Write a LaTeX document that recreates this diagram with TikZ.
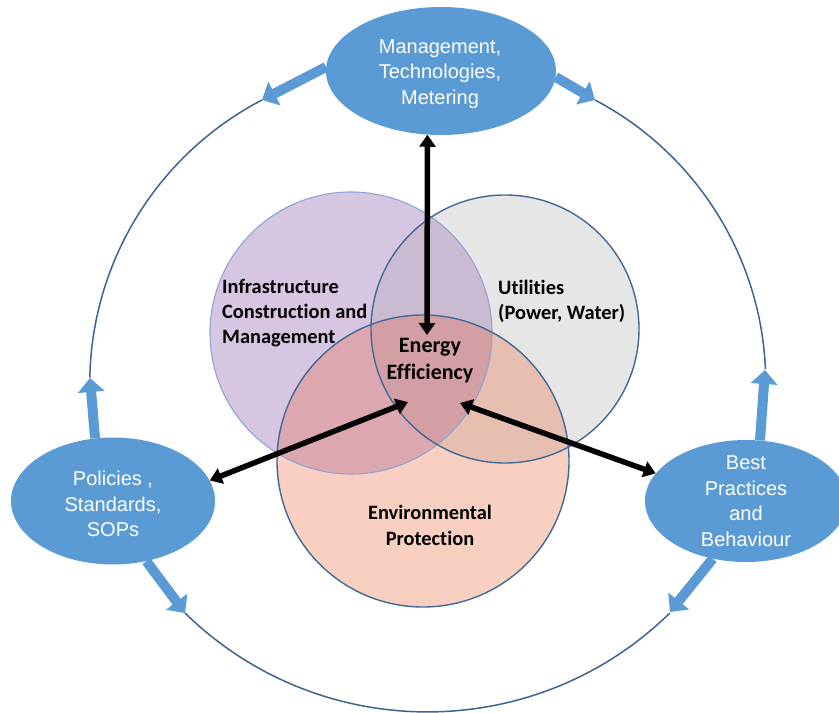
\documentclass[tikz,border=0pt]{standalone}
\usepackage{fontspec}
\setmainfont{Liberation Sans}
\newfontfamily\vennfont[Ligatures=NoCommon]{Carlito}
\usetikzlibrary{arrows.meta,shapes.geometric}

\definecolor{ovalblue}{RGB}{91,155,213}
\definecolor{ringline}{RGB}{62,98,145}
\definecolor{edgeblue}{RGB}{65,105,150}
\definecolor{edgelilac}{RGB}{143,164,210}
\definecolor{infraFill}{RGB}{215,198,226}
\definecolor{utilFill}{RGB}{230,230,230}
\definecolor{envFill}{RGB}{248,207,192}
\definecolor{infraUtil}{RGB}{202,187,211}
\definecolor{infraEnv}{RGB}{221,167,176}
\definecolor{utilEnv}{RGB}{231,191,177}
\definecolor{allThree}{RGB}{211,159,164}

\begin{document}
\begin{tikzpicture}[x=1pt,y=1pt,
  oval/.style={ellipse, fill=ovalblue, draw=none, inner sep=0pt},
  ovaltext/.style={text=white, align=center, inner sep=0pt,
    font=\fontsize{20}{25.5}\selectfont},
  flow/.style={draw=ovalblue, line width=10pt,
    -{Triangle[width=26pt,length=14pt]}},
  link/.style={draw=black, line width=5.5pt,
    {Triangle[width=16pt,length=12pt]}-{Triangle[width=16pt,length=12pt]}},
  ring/.style={draw=ringline, line width=1.5pt},
  vennlabel/.style={inner sep=0pt, text=black,
    font=\vennfont\bfseries\fontsize{20.4}{25}\selectfont}
]
\useasboundingbox (0,0) rectangle (839,713);

% centres of the three overlapping circles
\coordinate (cI) at (351,380);
\coordinate (cU) at (505,384);
\coordinate (cE) at (423,252);
\def\rI{141}
\def\rU{134}
\def\rE{146}

% ends of the outer cycle arrows
\coordinate (tTL) at (262,613);
\coordinate (tTR) at (595,613);
\coordinate (tLU) at (90,335);
\coordinate (tLD) at (185,100);
\coordinate (tRU) at (765,343);
\coordinate (tRD) at (670,101);

% points where the black arrows meet the centre
\coordinate (eeN) at (427,378);
\coordinate (eeL) at (408,311);
\coordinate (eeR) at (460,310);

% outer cycle
\draw[ring] (tTL) arc[start angle=117.5, end angle=178.9, radius=320];
\draw[ring] (tTR) arc[start angle=62.2, end angle=2.5, radius=320];
\draw[ring] (tLD) arc[start angle=225.6, end angle=314.4, radius=346.5];

% the three driver ovals
\node[oval, minimum width=230pt, minimum height=128pt] (mgmt) at (441,642) {};
\node[oval, minimum width=204pt, minimum height=127pt] (pol) at (113,212) {};
\node[oval, minimum width=202pt, minimum height=122pt] (best) at (746,212) {};

\draw[flow] (mgmt.178) -- (tTL);
\draw[flow] (mgmt.-3.5) -- (tTR);
\draw[flow] (pol.106.4) -- (tLU);
\draw[flow] (pol.-61.3) -- (tLD);
\draw[flow] (best.77) -- (tRU);
\draw[flow] (best.-120) -- (tRD);

\node[ovaltext] (mgmtText) at (440,639) {Management,\\Technologies,\\Metering};
\node[ovaltext] (polText) at (113,209) {Policies ,\\Standards,\\SOPs};
\node[ovaltext] (bestText) at (746,212) {Best\\Practices\\and\\Behaviour};

% Venn circles: plain fills
\fill[infraFill] (cI) circle[radius=\rI];
\fill[utilFill] (cU) circle[radius=\rU];
\fill[envFill] (cE) circle[radius=\rE];
% pairwise overlaps
\begin{scope}
  \clip (cI) circle[radius=\rI];
  \fill[infraUtil] (cU) circle[radius=\rU];
  \fill[infraEnv] (cE) circle[radius=\rE];
\end{scope}
\begin{scope}
  \clip (cU) circle[radius=\rU];
  \fill[utilEnv] (cE) circle[radius=\rE];
  \clip (cE) circle[radius=\rE];
  \fill[allThree] (cI) circle[radius=\rI];
\end{scope}
% outlines
\draw[edgelilac, line width=1.1pt] (cI) circle[radius=\rI];
\draw[edgeblue, line width=1.4pt] (cU) circle[radius=\rU];
\draw[edgeblue, line width=1.4pt] (cE) circle[radius=\rE];

% labels
\node[vennlabel, anchor=west, align=left] (infra) at (222,399.5)
  {Infrastructure\\Construction and\\Management};
\node[vennlabel, anchor=west, align=left] (util) at (498,412)
  {Utilities\\(Power, Water)};
\node[vennlabel, align=center, font=\vennfont\bfseries\fontsize{22}{27}\selectfont]
  (ee) at (430,352) {Energy\\Efficiency};
\node[vennlabel, align=center, font=\vennfont\bfseries\fontsize{20.4}{26}\selectfont]
  (env) at (430,188) {Environmental\\Protection};

% links between the ovals and the centre
\draw[link] (mgmt.-102.4) -- (eeN);
\draw[link] (eeL) -- (pol.12.6);
\draw[link] (eeR) -- (best.163.5);
\end{tikzpicture}
\end{document}
